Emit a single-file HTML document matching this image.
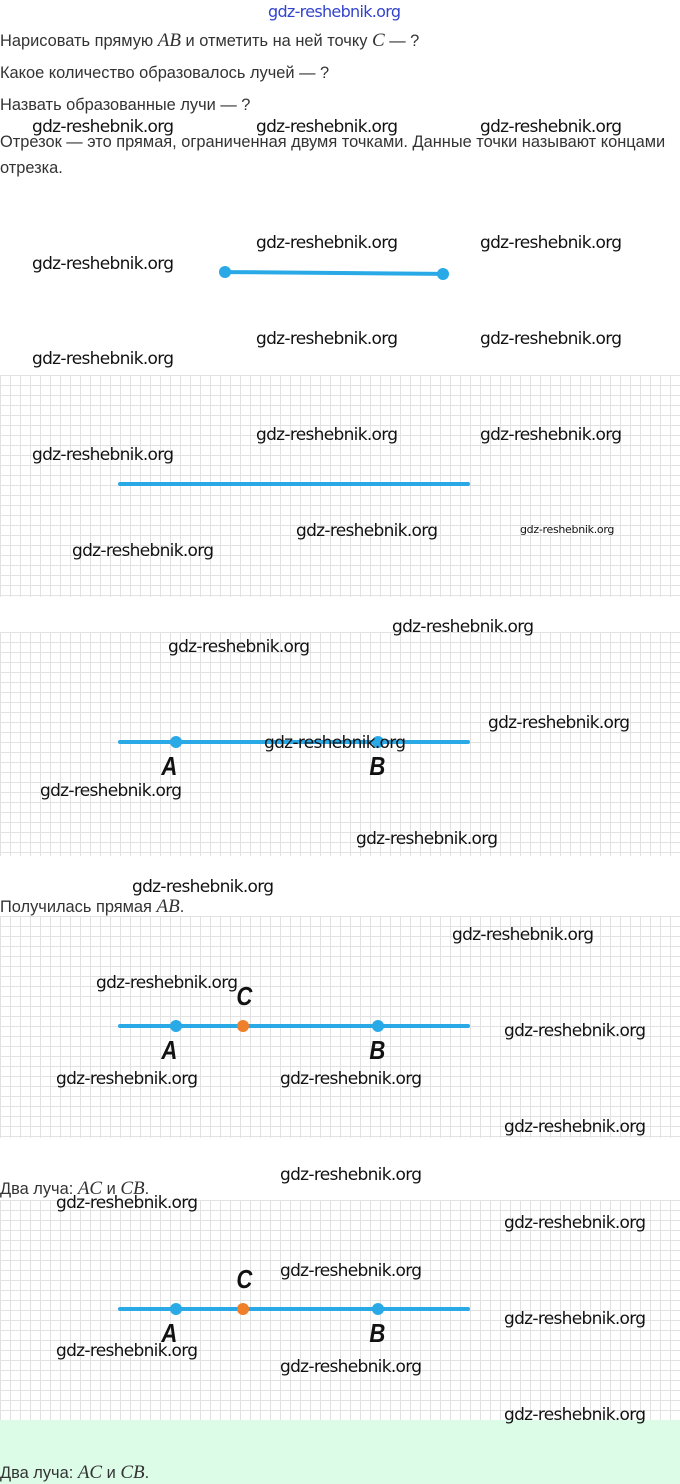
<!DOCTYPE html>
<html><head><meta charset="utf-8"><style>
body{margin:0;width:680px;height:1484px;position:relative;background:#fff;font-family:"Liberation Sans",sans-serif;overflow:hidden}
.t{position:absolute;left:0;font-size:16.4px;color:#333;white-space:nowrap}
.m{font-family:"Liberation Serif",serif;font-style:italic;font-size:19px}
.w{position:absolute;font-size:17px;color:#111;font-family:"DejaVu Sans","Liberation Sans",sans-serif;letter-spacing:-0.7px;white-space:nowrap}
.g{position:absolute;left:0;width:680px;background-color:#fff;background-image:linear-gradient(to right,#e2e2e2 1px,transparent 1px),linear-gradient(to bottom,#e2e2e2 1px,transparent 1px);background-size:10px 10px}
.ln{position:absolute;height:4px;background:#29a9e6;border-radius:2px}
.d{position:absolute;width:12px;height:12px;border-radius:50%;background:#29a9e6}
.o{background:#f07f2a}
.L{position:absolute;font-family:"Liberation Sans",sans-serif;font-weight:bold;font-style:italic;font-size:26px;color:#111;transform:scaleX(0.85)}
</style></head><body>
<div class="w" style="left:268px;top:2px;color:#3344cc;font-size:16px">gdz-reshebnik.org</div>
<div class="t" style="top:30px">Нарисовать прямую <span class="m">AB</span> и отметить на ней точку <span class="m">C</span> — ?</div>
<div class="t" style="top:64px">Какое количество образовалось лучей — ?</div>
<div class="t" style="top:96px">Назвать образованные лучи — ?</div>
<div class="t" style="top:133px">Отрезок — это прямая, ограниченная двумя точками. Данные точки называют концами</div>
<div class="t" style="top:159px">отрезка.</div>

<div class="ln" style="left:225px;top:271px;width:218px;transform:rotate(0.5deg)"></div>
<div class="d" style="left:219px;top:266px"></div><div class="d" style="left:437px;top:268px"></div>

<div class="g" style="top:375px;height:222px"></div>
<div class="ln" style="left:118px;top:482px;width:352px"></div>

<div class="g" style="top:632px;height:224px"></div>
<div class="ln" style="left:118px;top:740px;width:352px"></div>
<div class="d" style="left:170px;top:736px"></div><div class="d" style="left:372px;top:736px"></div>
<div class="L" style="left:160px;top:751px">A</div><div class="L" style="left:368px;top:751px">B</div>

<div class="t" style="top:896px">Получилась прямая <span class="m">AB</span>.</div>
<div class="g" style="top:916px;height:222px"></div>
<div class="ln" style="left:118px;top:1024px;width:352px"></div>
<div class="d" style="left:170px;top:1020px"></div><div class="d o" style="left:237px;top:1020px"></div><div class="d" style="left:372px;top:1020px"></div>
<div class="L" style="left:160px;top:1035px">A</div><div class="L" style="left:368px;top:1035px">B</div><div class="L" style="left:235px;top:981px">C</div>

<div class="t" style="top:1178px">Два луча: <span class="m">AC</span> и <span class="m">CB</span>.</div>
<div class="g" style="top:1200px;height:220px"></div>
<div class="ln" style="left:118px;top:1307px;width:352px"></div>
<div class="d" style="left:170px;top:1303px"></div><div class="d o" style="left:237px;top:1303px"></div><div class="d" style="left:372px;top:1303px"></div>
<div class="L" style="left:160px;top:1318px">A</div><div class="L" style="left:368px;top:1318px">B</div><div class="L" style="left:235px;top:1264px">C</div>

<div style="position:absolute;left:0;top:1420px;width:680px;height:64px;background:#dcfce8"></div>
<div class="t" style="top:1462px">Два луча: <span class="m">AC</span> и <span class="m">CB</span>.</div>

<div class="w" style="left:32px;top:117px">gdz-reshebnik.org</div>
<div class="w" style="left:256px;top:117px">gdz-reshebnik.org</div>
<div class="w" style="left:480px;top:117px">gdz-reshebnik.org</div>
<div class="w" style="left:256px;top:233px">gdz-reshebnik.org</div>
<div class="w" style="left:480px;top:233px">gdz-reshebnik.org</div>
<div class="w" style="left:32px;top:254px">gdz-reshebnik.org</div>
<div class="w" style="left:256px;top:329px">gdz-reshebnik.org</div>
<div class="w" style="left:480px;top:329px">gdz-reshebnik.org</div>
<div class="w" style="left:32px;top:349px">gdz-reshebnik.org</div>
<div class="w" style="left:256px;top:425px">gdz-reshebnik.org</div>
<div class="w" style="left:480px;top:425px">gdz-reshebnik.org</div>
<div class="w" style="left:32px;top:445px">gdz-reshebnik.org</div>
<div class="w" style="left:296px;top:521px">gdz-reshebnik.org</div>
<div class="w" style="left:520px;top:523px;font-size:11px;letter-spacing:-0.3px">gdz-reshebnik.org</div>
<div class="w" style="left:72px;top:541px">gdz-reshebnik.org</div>
<div class="w" style="left:392px;top:617px">gdz-reshebnik.org</div>
<div class="w" style="left:168px;top:637px">gdz-reshebnik.org</div>
<div class="w" style="left:488px;top:713px">gdz-reshebnik.org</div>
<div class="w" style="left:264px;top:733px">gdz-reshebnik.org</div>
<div class="w" style="left:40px;top:781px">gdz-reshebnik.org</div>
<div class="w" style="left:356px;top:829px">gdz-reshebnik.org</div>
<div class="w" style="left:132px;top:877px">gdz-reshebnik.org</div>
<div class="w" style="left:452px;top:925px">gdz-reshebnik.org</div>
<div class="w" style="left:96px;top:973px">gdz-reshebnik.org</div>
<div class="w" style="left:504px;top:1021px">gdz-reshebnik.org</div>
<div class="w" style="left:56px;top:1069px">gdz-reshebnik.org</div>
<div class="w" style="left:280px;top:1069px">gdz-reshebnik.org</div>
<div class="w" style="left:504px;top:1117px">gdz-reshebnik.org</div>
<div class="w" style="left:280px;top:1165px">gdz-reshebnik.org</div>
<div class="w" style="left:56px;top:1193px">gdz-reshebnik.org</div>
<div class="w" style="left:504px;top:1213px">gdz-reshebnik.org</div>
<div class="w" style="left:280px;top:1261px">gdz-reshebnik.org</div>
<div class="w" style="left:504px;top:1309px">gdz-reshebnik.org</div>
<div class="w" style="left:56px;top:1341px">gdz-reshebnik.org</div>
<div class="w" style="left:280px;top:1357px">gdz-reshebnik.org</div>
<div class="w" style="left:504px;top:1405px">gdz-reshebnik.org</div>
</body></html>
